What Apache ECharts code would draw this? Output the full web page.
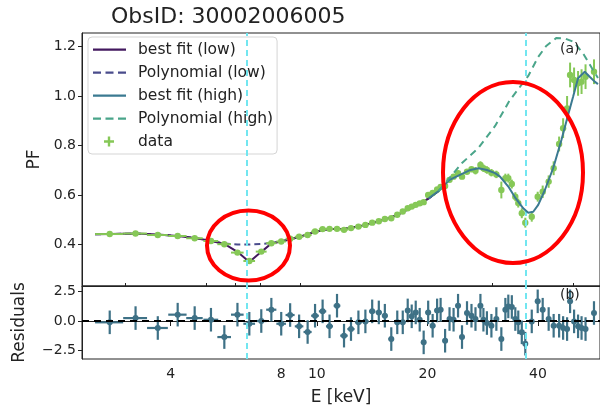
<!DOCTYPE html>
<html><head><meta charset="utf-8">
<script src="https://cdn.jsdelivr.net/npm/echarts@6/dist/echarts.min.js"></script>
<style>html,body{margin:0;padding:0;background:#fff}#c{width:600px;height:410px}</style>
</head><body><div id="c"></div>
<script>
// ---- data (energies in keV) ----
const energy = [2.73,3.21,3.69,4.18,4.65,5.15,5.60,6.08,6.55,7.06,7.52,8.00,8.46,8.95,9.44,9.89,10.37,10.83,11.35,11.86,12.39,12.98,13.56,14.15,14.75,15.32,15.95,16.56,17.14,17.68,18.13,18.59,19.06,19.54,20.10,20.67,21.26,21.73,22.35,22.98,23.57,24.24,24.85,25.64,26.37,27.04,27.89,28.42,29.05,29.88,30.82,31.80,32.61,33.22,33.96,34.71,35.36,36.15,36.95,38.48,39.94,41.21,42.78,44.14,45.68,46.84,48.02,48.93,50.17,51.44,52.58,53.91,56.84];
const eErr = [0.24,0.24,0.24,0.24,0.24,0.24,0.24,0.24,0.24,0.24,0.24,0.24,0.24,0.24,0.24,0.24,0.24,0.24,0.24,0.28,0.28,0.28,0.28,0.28,0.28,0.28,0.28,0.28,0.28,0.28,0.28,0.28,0.28,0.28,0.35,0.35,0.35,0.35,0.35,0.35,0.35,0.35,0.35,0.35,0.35,0.35,0.35,0.35,0.35,0.35,0.35,0.35,0.35,0.35,0.35,0.35,0.35,0.35,0.35,0.35,0.35,0.6,0.6,0.6,0.6,0.6,0.6,0.6,0.6,0.6,0.6,0.6,0.6];
const pf = [0.442,0.444,0.438,0.434,0.425,0.414,0.401,0.367,0.333,0.371,0.405,0.412,0.423,0.431,0.438,0.452,0.462,0.463,0.463,0.459,0.466,0.472,0.479,0.488,0.494,0.503,0.506,0.520,0.533,0.546,0.553,0.560,0.566,0.571,0.600,0.608,0.622,0.632,0.636,0.661,0.674,0.688,0.674,0.694,0.704,0.698,0.721,0.708,0.701,0.690,0.683,0.620,0.668,0.668,0.644,0.593,0.567,0.526,0.488,0.512,0.593,0.613,0.654,0.708,0.806,0.870,0.950,1.085,1.065,1.051,1.058,1.078,1.098];
const pfErr = [0.006,0.006,0.006,0.006,0.006,0.006,0.006,0.006,0.006,0.006,0.006,0.006,0.006,0.006,0.006,0.006,0.006,0.006,0.006,0.006,0.007,0.007,0.007,0.007,0.007,0.007,0.007,0.007,0.007,0.007,0.007,0.007,0.007,0.007,0.010,0.010,0.010,0.010,0.010,0.010,0.010,0.010,0.010,0.010,0.010,0.015,0.015,0.015,0.015,0.015,0.015,0.034,0.018,0.018,0.018,0.018,0.018,0.020,0.020,0.020,0.020,0.025,0.025,0.028,0.030,0.040,0.050,0.050,0.050,0.050,0.050,0.050,0.050];
const resid = [-0.11,0.25,-0.59,0.54,0.25,0.11,-1.36,0.54,-0.23,0.0,0.96,-0.23,0.51,-0.45,-0.93,0.45,0.82,-0.45,1.30,-1.24,-0.68,-0.11,-0.03,0.82,0.73,0.45,-1.53,-0.11,-0.11,0.90,0.40,0.73,0.11,-1.81,0.73,-0.40,0.90,0.96,-1.67,0.17,0.11,1.30,-1.36,0.68,0.45,0.17,1.30,0.11,-0.17,-0.40,0.17,-1.53,0.96,1.24,1.19,0.17,-0.11,-0.96,-1.92,-0.03,1.67,0.96,0.17,-0.40,-0.40,-0.59,-0.68,1.67,-0.03,-0.45,-0.59,-0.68,0.68];

const lowE      = [2.49,2.73,3.21,3.69,4.18,4.65,5.17,5.60,6.08,6.55,7.06,7.52,8.00,8.95,9.89,10.83,11.86,13.02,14.15,15.32,16.56,17.79,19.06,20.16,21.46];
const lowFitPF  = [0.441,0.442,0.444,0.440,0.434,0.426,0.414,0.402,0.370,0.329,0.370,0.404,0.412,0.430,0.451,0.462,0.463,0.473,0.487,0.501,0.519,0.543,0.564,0.586,0.616];
const lowPolyPF = [0.441,0.442,0.444,0.440,0.434,0.426,0.414,0.404,0.400,0.400,0.402,0.406,0.412,0.430,0.451,0.462,0.463,0.473,0.487,0.501,0.519,0.543,0.564,0.586,0.616];

const highFitE  = [20.16,21.46,22.98,24.85,26.20,27.55,29.05,30.58,31.54,33.22,34.77,36.48,37.64,38.84,40.07,41.78,44.00,46.34,48.32,49.86,51.44,53.64,55.33,57.09,58.27];
const highFitPF = [0.586,0.616,0.661,0.685,0.701,0.708,0.701,0.688,0.674,0.634,0.587,0.546,0.528,0.532,0.560,0.620,0.708,0.822,0.923,0.997,1.072,1.098,1.078,1.058,1.048];
const highPolyE  = [21.46,24.85,27.55,30.58,33.43,37.64,40.07,42.12,44.84,47.50,50.17,53.40,56.49,58.27];
const highPolyPF = [0.616,0.729,0.790,0.879,0.980,1.081,1.158,1.202,1.234,1.232,1.218,1.166,1.105,1.073];

const xTicks = [4,8,10,20,40];
const xMinorTicks = [3,5,6,7,9,30,50];
const pfTicks = [0.4,0.6,0.8,1.0,1.2];
const residTicks = [-2.5,0,2.5];
const markerE = [6.52,37.25];

// ---- chart ----
const L = Math.log10;
const XMIN = 0.36067, XMAX = 1.77103;
const FONT = 'DejaVu Sans';
const dataPts = energy.map((e,i)=>[L(e), pf[i], L(e-eErr[i]), L(e+eErr[i]), pf[i]-pfErr[i], pf[i]+pfErr[i]]);
const resPts = energy.map((e,i)=>[L(e), resid[i], L(e-eErr[i]), L(e+eErr[i]), resid[i]-1, resid[i]+1]);

function errRender(color, r, lw){
  return function(params, api){
    const x=api.value(0), y=api.value(1);
    const c=api.coord([x,y]);
    const a=api.coord([api.value(2),y]), b=api.coord([api.value(3),y]);
    const d=api.coord([x,api.value(4)]), u=api.coord([x,api.value(5)]);
    const st={stroke:color,lineWidth:lw};
    return {type:'group',children:[
      {type:'line',shape:{x1:a[0],y1:a[1],x2:b[0],y2:b[1]},style:st},
      {type:'line',shape:{x1:d[0],y1:d[1],x2:u[0],y2:u[1]},style:st},
      {type:'circle',shape:{cx:c[0],cy:c[1],r:r},style:{fill:color}}
    ]};
  };
}
// legend icons (bounding box 40x14 so they are not stretched)
const BOX = 'M0,0h0.01v0.01h-0.01z M39.99,13.99h0.01v0.01h-0.01z ';
const ICON_SOLID = 'path://' + BOX + 'M0,6h33v2.2h-33z';
const ICON_DASH  = 'path://' + BOX + 'M0,6h8v2.2h-8z M12.5,6h8v2.2h-8z M25,6h8v2.2h-8z';
const ICON_PLUS  = 'path://' + BOX + 'M14.8,2h2.4v10h-2.4z M11,5.8h10v2.4h-10z';

const axisTxt = {fontFamily:FONT,fontSize:14,color:'#222'};
const nameTxt = {fontFamily:FONT,fontSize:17,color:'#222'};
const chart = echarts.init(document.getElementById('c'),null,{renderer:'canvas'});
chart.setOption({
  animation:false,
  backgroundColor:'#fff',
  title:{text:'ObsID: 30002006005',left:106,top:1,textStyle:{fontFamily:FONT,fontSize:22,fontWeight:'normal',color:'#222'}},
  legend:{
    orient:'vertical',left:88,top:37,itemWidth:40,itemHeight:14,itemGap:6,
    padding:[4,4,4,5],borderColor:'#d5d5d5',borderWidth:1,borderRadius:4,backgroundColor:'rgba(255,255,255,0.85)',
    textStyle:{fontFamily:FONT,fontSize:15.5,color:'#222',lineHeight:17},
    data:[
      {name:'best fit (low)',icon:ICON_SOLID},
      {name:'Polynomial (low)',icon:ICON_DASH},
      {name:'best fit (high)',icon:ICON_SOLID},
      {name:'Polynomial (high)',icon:ICON_DASH},
      {name:'data',icon:ICON_PLUS}
    ]
  },
  grid:[
    {left:82,top:33,width:520,height:253,show:true,borderColor:'#222',borderWidth:1},
    {left:82,top:286,width:520,height:73,show:true,borderColor:'#222',borderWidth:1}
  ],
  xAxis:[
    {gridIndex:0,type:'value',min:XMIN,max:XMAX,axisLine:{show:true,lineStyle:{color:'#222'}},axisTick:{show:false},axisLabel:{show:false},splitLine:{show:false}},
    {gridIndex:1,type:'value',min:XMIN,max:XMAX,axisLine:{show:true,lineStyle:{color:'#222'}},
      axisTick:{show:true,length:5,lineStyle:{color:'#222'},customValues:xTicks.map(L)},
      axisLabel:{show:true,margin:8,...axisTxt,customValues:xTicks.map(L),formatter:v=>String(Math.round(Math.pow(10,v)))},
      splitLine:{show:false},name:'E [keV]',nameLocation:'middle',nameGap:30,nameTextStyle:nameTxt},
    {gridIndex:1,type:'value',min:XMIN,max:XMAX,axisLine:{show:false},
      axisTick:{show:true,length:3,lineStyle:{color:'#222'},customValues:xMinorTicks.map(L)},
      axisLabel:{show:false},splitLine:{show:false}}
  ],
  yAxis:[
    {gridIndex:0,type:'value',min:0.232,max:1.2546,axisLine:{show:true,lineStyle:{color:'#222'}},
      axisTick:{show:true,length:4,lineStyle:{color:'#222'},customValues:pfTicks},
      axisLabel:{show:true,margin:6,...axisTxt,customValues:pfTicks,formatter:v=>v.toFixed(1)},
      splitLine:{show:false},name:'PF',nameLocation:'middle',nameGap:35,nameTextStyle:nameTxt},
    {gridIndex:1,type:'value',min:-3.22,max:2.97,axisLine:{show:true,lineStyle:{color:'#222'}},
      axisTick:{show:true,length:4,lineStyle:{color:'#222'},customValues:residTicks},
      axisLabel:{show:true,margin:6,...axisTxt,customValues:residTicks,formatter:v=>(v<0?'\u2212':'')+Math.abs(v).toFixed(1)},
      splitLine:{show:false},name:'Residuals',nameLocation:'middle',nameGap:54,nameTextStyle:nameTxt}
  ],
  series:[
    {type:'line',name:'markers-top',xAxisIndex:0,yAxisIndex:0,data:lowE.map((e,i)=>[L(e),lowFitPF[i]]),symbol:'none',lineStyle:{opacity:0},silent:true,z:1,
      markLine:{silent:true,symbol:['none','none'],label:{show:false},lineStyle:{color:'#72e6f0',type:[6,4],width:2},data:markerE.map(e=>({xAxis:L(e)}))}},
    {type:'line',name:'best fit (low)',xAxisIndex:0,yAxisIndex:0,data:lowE.map((e,i)=>[L(e),lowFitPF[i]]),symbol:'none',itemStyle:{color:'#43195f'},lineStyle:{color:'#43195f',width:2},z:3},
    {type:'line',name:'Polynomial (low)',xAxisIndex:0,yAxisIndex:0,data:lowE.map((e,i)=>[L(e),lowPolyPF[i]]),symbol:'none',itemStyle:{color:'#4a4c8c'},lineStyle:{color:'#4a4c8c',width:2,type:[6,4]},z:2},
    {type:'custom',name:'data',xAxisIndex:0,yAxisIndex:0,data:dataPts,encode:{x:0,y:1},renderItem:errRender('#86c857',3.2,2),itemStyle:{color:'#86c857'},clip:true,z:4},
    {type:'line',name:'best fit (high)',xAxisIndex:0,yAxisIndex:0,data:highFitE.map((e,i)=>[L(e),highFitPF[i]]),symbol:'none',itemStyle:{color:'#3b7a91'},lineStyle:{color:'#3b7a91',width:2},z:5},
    {type:'line',name:'Polynomial (high)',xAxisIndex:0,yAxisIndex:0,data:highPolyE.map((e,i)=>[L(e),highPolyPF[i]]),symbol:'none',itemStyle:{color:'#4aa58a'},lineStyle:{color:'#4aa58a',width:2,type:[7,5]},z:5},
    {type:'line',name:'markers-bottom',xAxisIndex:1,yAxisIndex:1,data:resPts.map(p=>[p[0],p[1]]),symbol:'none',lineStyle:{opacity:0},silent:true,z:1,
      markLine:{silent:true,symbol:['none','none'],label:{show:false},
        data:[
          ...markerE.map(e=>({xAxis:L(e),lineStyle:{color:'#72e6f0',type:[6,4],width:2}})),
          {yAxis:0,lineStyle:{color:'#000',type:[7,5],width:2}}
        ]}},
    {type:'custom',name:'resid',xAxisIndex:1,yAxisIndex:1,data:resPts,encode:{x:0,y:1},renderItem:errRender('#3e7186',3,2.2),itemStyle:{color:'#3e7186'},clip:true,z:4}
  ],
  graphic:[
    {type:'ellipse',shape:{cx:248.5,cy:245.5,rx:41.5,ry:35},style:{fill:'none',stroke:'#ff0000',lineWidth:4},z:100},
    {type:'ellipse',shape:{cx:513,cy:172.5,rx:70,ry:90.5},style:{fill:'none',stroke:'#ff0000',lineWidth:4},z:100},
    {type:'text',left:560,top:42,style:{text:'(a)',font:'14px "DejaVu Sans"',fill:'#222'},z:100},
    {type:'text',left:560,top:288,style:{text:'(b)',font:'14px "DejaVu Sans"',fill:'#222'},z:100}
  ]
});
</script>
</body></html>
